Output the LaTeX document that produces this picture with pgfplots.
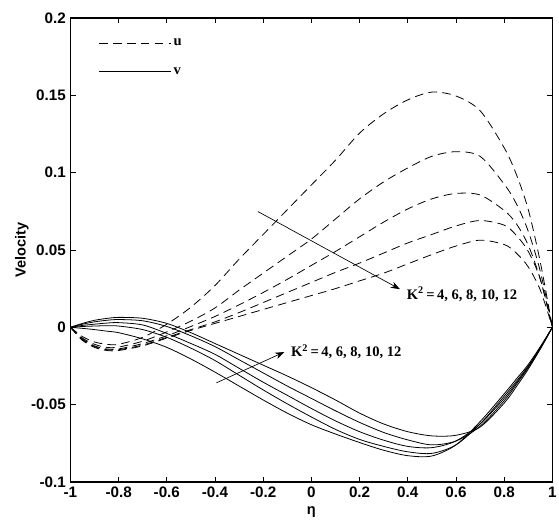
\documentclass[border=0pt]{standalone}
\usepackage{fontspec}
\setmainfont{Liberation Sans}
\newfontfamily\tnr{Liberation Serif}
\usepackage{pgfplots}
\pgfplotsset{compat=1.18}
\usetikzlibrary{arrows.meta}

% u (dashed) for K^2 = 4, 6, 8, 10, 12
\pgfplotstableread{
x      k4      k6      k8      k10     k12
-1     0       0       0       0       0
-0.95  -0.006  -0.007  -0.0075 -0.008  -0.0085
-0.9   -0.0095 -0.011  -0.012  -0.0125 -0.013
-0.85  -0.011  -0.013  -0.014  -0.0145 -0.015
-0.8   -0.011  -0.0128 -0.014  -0.0145 -0.015
-0.7   -0.0065 -0.009  -0.0105 -0.0115 -0.012
-0.6   0.002   -0.003  -0.0055 -0.0065 -0.007
-0.5   0.013   0.004   0.0005  -0.0015 -0.002
-0.4   0.027   0.0125  0.007   0.0035  0.0025
-0.3   0.044   0.024   0.0145  0.0095  0.007
-0.2   0.060   0.035   0.0225  0.016   0.0115
-0.1   0.076   0.046   0.031   0.0225  0.016
0      0.092   0.057   0.040   0.029   0.0205
0.1    0.108   0.070   0.049   0.0355  0.025
0.2    0.1255  0.083   0.0585  0.0415  0.030
0.3    0.138   0.094   0.068   0.048   0.035
0.4    0.147   0.103   0.0765  0.0545  0.041
0.5    0.152   0.1105  0.083   0.060   0.047
0.6    0.1495  0.1135  0.0865  0.0655  0.0525
0.7    0.140   0.1105  0.0855  0.069   0.0563
0.8    0.116   0.0925  0.0755  0.066   0.0535
0.85   0.099   0.080   0.067   0.0595  0.048
0.9    0.076   0.062   0.053   0.049   0.039
0.95   0.042   0.036   0.031   0.031   0.024
1      0       0       0       0       0
}\utable

% v (solid) for K^2 = 4, 6, 8, 10, 12
\pgfplotstableread{
x      k4      k6      k8      k10     k12
-1     0       0       0       0       0
-0.95  -0.0007 0.0005  0.0012  0.002   0.0025
-0.9   -0.0015 0.0008  0.002   0.0035  0.0045
-0.85  -0.0025 0.001   0.0027  0.0045  0.0057
-0.8   -0.0035 0.0008  0.003   0.005   0.0064
-0.7   -0.0075 -0.0015 0.0015  0.0042  0.0058
-0.6   -0.013  -0.0065 -0.004  0.0005  0.0025
-0.5   -0.0205 -0.0135 -0.0105 -0.0055 -0.0035
-0.4   -0.029  -0.0215 -0.0175 -0.0125 -0.0105
-0.3   -0.038  -0.031  -0.0265 -0.021  -0.0175
-0.2   -0.047  -0.0405 -0.0355 -0.0295 -0.0245
-0.1   -0.0555 -0.0495 -0.044  -0.038  -0.0315
0      -0.063  -0.058  -0.0525 -0.046  -0.039
0.1    -0.069  -0.066  -0.0605 -0.054  -0.047
0.2    -0.0745 -0.0725 -0.0675 -0.0615 -0.0555
0.3    -0.0795 -0.077  -0.073  -0.068  -0.0625
0.4    -0.083  -0.0805 -0.077  -0.0728 -0.0675
0.5    -0.0832 -0.0815 -0.0778 -0.076  -0.0702
0.6    -0.076  -0.076  -0.0735 -0.0735 -0.0698
0.7    -0.061  -0.0625 -0.0625 -0.064  -0.0645
0.8    -0.043  -0.0445 -0.046  -0.0475 -0.049
0.85   -0.0335 -0.035  -0.036  -0.037  -0.0385
0.9    -0.024  -0.025  -0.0255 -0.026  -0.027
0.95   -0.0125 -0.013  -0.0135 -0.0138 -0.014
1      0       0       0       0       0
}\vtable

\begin{document}
\begin{tikzpicture}
\begin{axis}[
    scale only axis, width=364.5pt, height=351pt,
    xmin=-1, xmax=1, ymin=-0.1, ymax=0.2,
    xtick={-1,-0.8,-0.6,-0.4,-0.2,0,0.2,0.4,0.6,0.8,1},
    ytick={-0.1,-0.05,0,0.05,0.1,0.15,0.2},
    scaled ticks=false,
    tick align=inside, major tick length=4pt,
    tick style={black, line width=0.6pt},
    axis line style={line width=1pt},
    /pgf/number format/assume math mode=true,
    /pgf/number format/fixed,
    ticklabel style={font=\fontsize{11.5}{13}\selectfont\bfseries},
    xlabel={\bfseries η}, ylabel={\bfseries Velocity},
    ylabel shift=-5pt,
    label style={font=\fontsize{11}{13}\selectfont},
    legend style={at={(axis cs:-0.9,0.190)}, anchor=north west, draw=none, fill=none,
        font=\tnr\bfseries\fontsize{11}{12}\selectfont, row sep=11pt},
    legend cell align=left,
    legend image code/.code={\draw[#1] (0pt,0pt) -- (54pt,0pt);},
    every axis plot/.append style={black, no markers, line width=0.6pt, smooth},
]
\addplot[dash pattern=on 6.5pt off 4pt] table[x=x, y=k4] {\utable};
\addlegendentry{u}
\addplot[dash pattern=on 6.5pt off 4pt, forget plot] table[x=x, y=k6] {\utable};
\addplot[dash pattern=on 6.5pt off 4pt, forget plot] table[x=x, y=k8] {\utable};
\addplot[dash pattern=on 6.5pt off 4pt, forget plot] table[x=x, y=k10] {\utable};
\addplot[dash pattern=on 6.5pt off 4pt, forget plot] table[x=x, y=k12] {\utable};

\addplot[solid] table[x=x, y=k4] {\vtable};
\addlegendentry{v}
\addplot[solid, forget plot] table[x=x, y=k6] {\vtable};
\addplot[solid, forget plot] table[x=x, y=k8] {\vtable};
\addplot[solid, forget plot] table[x=x, y=k10] {\vtable};
\addplot[solid, forget plot] table[x=x, y=k12] {\vtable};

\draw[-{Stealth[length=7pt, width=5pt]}, line width=0.5pt] (axis cs:-0.222,0.0748) -- (axis cs:0.3675,0.0246);
\node[anchor=west, inner sep=0pt, font=\tnr\bfseries\fontsize{11}{12}\selectfont] at (axis cs:0.395,0.0214) {K\textsuperscript{2}\,=\,4, 6, 8, 10, 12};
\draw[-{Stealth[length=7pt, width=5pt]}, line width=0.5pt] (axis cs:-0.394,-0.0359) -- (axis cs:-0.112,-0.016);
\node[anchor=west, inner sep=0pt, font=\tnr\bfseries\fontsize{11}{12}\selectfont] at (axis cs:-0.085,-0.016) {K\textsuperscript{2}\,=\,4, 6, 8, 10, 12};
\end{axis}
\pgfresetboundingbox
\path ([xshift=-53.25pt,yshift=-32.25pt]current axis.south west) rectangle ([xshift=5pt,yshift=13.5pt]current axis.north east);
\end{tikzpicture}
\end{document}
